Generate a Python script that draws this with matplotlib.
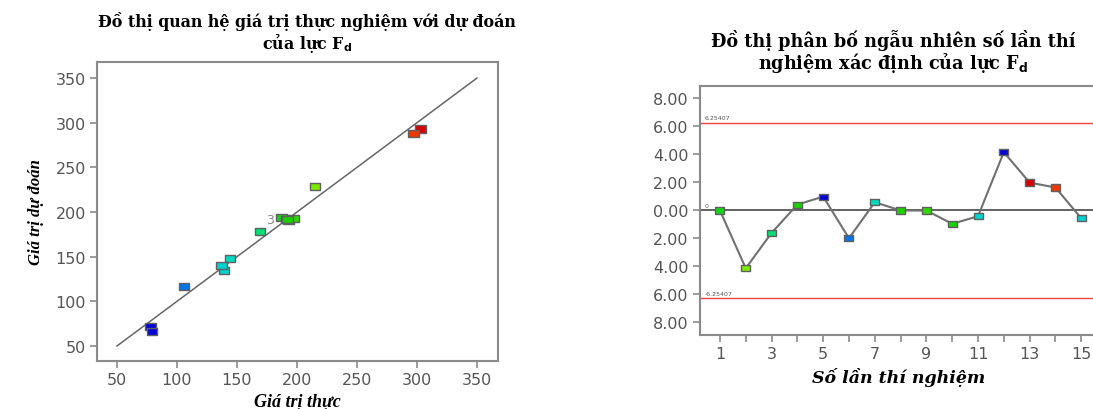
import matplotlib
matplotlib.use("Agg")
import matplotlib.pyplot as plt
import numpy as np
from matplotlib.colors import LinearSegmentedColormap

# dữ liệu theo thứ tự thí nghiệm
runs = np.arange(1, 16)
actual = [187, 215, 169, 191, 78, 106, 144, 193, 197, 192, 139, 79, 303, 297, 137]
predicted = [194, 229, 178, 192, 72, 117, 148, 191, 193, 192, 135, 66, 293, 288, 140]
residuals = [-0.02, -4.14, -1.62, 0.40, 0.97, -2.0, 0.57, -0.02, -0.02, -0.97, -0.43, 4.14, 1.97, 1.62, -0.57]
limit = 6.25407
xy_ticks = [50, 100, 150, 200, 250, 300, 350]
res_ticks = [8, 6, 4, 2, 0, -2, -4, -6, -8]
res_ticklabels = ["8.00", "6.00", "4.00", "2.00", "0.00", "2.00", "4.00", "6.00", "8.00"]

# màu theo giá trị thực
anchors = [(78, (0, 0, 0.85)), (106, (0, 0.47, 0.92)), (140, (0, 0.85, 0.8)),
           (169, (0, 0.88, 0.45)), (192, (0.1, 0.82, 0)), (215, (0.5, 0.92, 0)),
           (297, (0.95, 0.25, 0)), (303, (0.85, 0, 0))]
lo, hi = anchors[0][0], anchors[-1][0]
cmap = LinearSegmentedColormap.from_list("dx", [((v - lo) / (hi - lo), c) for v, c in anchors])
colors = [cmap((a - lo) / (hi - lo)) for a in actual]

rect = [(-1.45, -1), (1.45, -1), (1.45, 1), (-1.45, 1), (-1.45, -1)]
grey = "#555555"
spine_c = "#8a8a8a"
serif = ["DejaVu Serif"]
serif2 = ["Liberation Serif", "DejaVu Serif"]
sans = ["DejaVu Sans"]

fig = plt.figure(figsize=(10.93, 4.10), dpi=100)

# ---- biểu đồ trái ----
ax1 = fig.add_axes([0.0887, 0.1171, 0.3669, 0.7293])
ax1.plot([50, 350], [50, 350], color="#666666", lw=1.1, zorder=1)
ax1.scatter(actual, predicted, marker=rect, s=55, c=colors, edgecolors="#606060", linewidths=1.0, zorder=3)
ax1.text(181, 192, "3", color="#888888", fontsize=9, ha="right", va="center", zorder=2)
ax1.set_xlim(33.3, 367.5)
ax1.set_ylim(33.2, 368)
ax1.set_xticks(xy_ticks)
ax1.set_yticks(xy_ticks)
ax1.set_xlabel("Giá trị thực", family=serif2, style="italic", fontweight="bold", fontsize=13, labelpad=4)
ax1.set_ylabel("Giá trị dự đoán", family=serif2, style="italic", fontweight="bold", fontsize=12, labelpad=8)
fig.text(0.281, 0.918, "Đồ thị quan hệ giá trị thực nghiệm với dự đoán\ncủa lực F$_\\mathbf{d}$",
         family=serif, fontweight="bold", fontsize=11.4, ha="center", va="center", linespacing=1.1)

# ---- biểu đồ phải ----
ax2 = fig.add_axes([0.6404, 0.1805, 0.363, 0.608])
ax2.axhline(0, color="#555555", lw=1.3, zorder=1)
ax2.axhline(limit, color="#f04040", lw=1.0, zorder=1)
ax2.axhline(-limit, color="#f04040", lw=1.0, zorder=1)
ax2.text(0.4, limit + 0.15, f"{limit}", fontsize=4.5, color="#555555", va="bottom")
ax2.text(0.4, -limit + 0.15, f"-{limit}", fontsize=4.5, color="#555555", va="bottom")
ax2.text(0.4, 0.15, "0", fontsize=4.5, color="#555555", va="bottom")
ax2.plot(runs, residuals, color="#707070", lw=1.5, zorder=2)
ax2.scatter(runs, residuals, marker=rect, s=42, c=colors, edgecolors="#606060", linewidths=1.0, zorder=3)
ax2.set_xlim(0.225, 15.6)
ax2.set_ylim(-8.9, 8.88)
ax2.set_xticks(runs[::2])
ax2.set_xticks(runs[1::2], minor=True)
ax2.set_yticks(res_ticks)
ax2.set_yticklabels(res_ticklabels)
ax2.set_xlabel("Số lần thí nghiệm", family=serif, style="italic", fontweight="bold", fontsize=12.5, labelpad=4)
fig.text(0.817, 0.873, "Đồ thị phân bố ngẫu nhiên số lần thí\nnghiệm xác định của lực F$_\\mathbf{d}$",
         family=serif, fontweight="bold", fontsize=12.7, ha="center", va="center", linespacing=1.0)

for ax in (ax1, ax2):
    for sp in ax.spines.values():
        sp.set_color(spine_c)
        sp.set_linewidth(1.5)
    ax.tick_params(which="both", direction="out", length=5, width=1.2, color=spine_c,
                   labelcolor=grey, labelsize=11.5, pad=3)
    for lab in ax.get_xticklabels() + ax.get_yticklabels():
        lab.set_family(sans)

fig.savefig("out.png", dpi=100)
